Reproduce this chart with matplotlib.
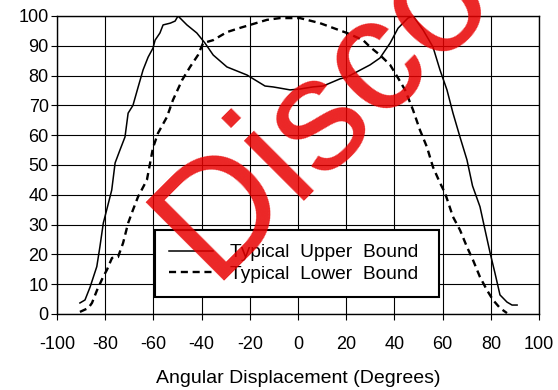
import matplotlib
matplotlib.use('Agg')
import matplotlib.pyplot as plt

plt.rcParams['font.family'] = ['Liberation Sans', 'DejaVu Sans']
plt.rcParams['axes.unicode_minus'] = False

# typical upper bound (solid)
upper_x = [-90.5, -88.4, -86.3, -83.5, -82.2, -80.8, -79.4, -77.3, -75.9, -73.9,
           -71.8, -70.5, -68.5, -66.4, -64.3, -62.2, -60.2, -59.3, -57.3, -56,
           -53, -51, -49.8, -46.1, -42, -38.6, -35.2, -29.5, -21.2, -13.7,
           -10.4, -7.5, -3.3, 0.8, 6.2, 10.4, 17.4, 20.3, 29.9, 34,
           38.2, 41.5, 45.6, 47.7, 51.9, 56, 58.9, 61.8, 64.3, 67.2,
           70.1, 72.4, 75.5, 77.6, 79.7, 81.7, 83.8, 86.7, 88.8, 90.9]
upper_y = [3.7, 4.7, 9, 15.9, 22.6, 30.5, 34.9, 41.6, 50.7, 55,
           59.4, 67.4, 70, 76, 81.9, 86.2, 89.2, 91.9, 94.3, 97,
           97.6, 98.3, 100, 97, 94.3, 90.9, 86.9, 82.9, 80.2, 76.5,
           76.2, 75.8, 75.2, 75.5, 76.2, 76.5, 78.9, 79.5, 83.6, 85.9,
           90.9, 95.9, 99.3, 100, 95.3, 89.6, 81.9, 75.2, 67.4, 59.4,
           51.7, 43, 36, 28.2, 20.5, 13.8, 6.4, 4, 3, 3]

# typical lower bound (dashed)
lower_x = [-90.5, -87, -85.5, -83.4, -80.9, -79.3, -77.2, -74.7, -72.6, -70.5,
           -68.5, -66.4, -62.7, -60.2, -58.1, -54.4, -51.9, -48.1, -44.8, -41.5,
           -39.4, -35.2, -29.5, -24.1, -18.7, -12.9, -7.5, 0.8, 9.1, 20.3,
           27, 29.9, 34, 38.2, 41.5, 44.4, 47.7, 50.6, 53.5, 56,
           58.9, 61, 64.3, 67.2, 70.1, 72.6, 75.5, 78.4, 80.9, 83.8, 86.7]
lower_y = [0.7, 2, 3.7, 8, 12.4, 14.8, 18.8, 19.1, 23.8, 30.5,
           34.9, 39.3, 45, 55.7, 60.7, 66.1, 71.8, 78.5, 82.9, 86.9,
           90.9, 91.9, 94.6, 96, 97.3, 98.7, 99.3, 99.3, 97.6, 94.3,
           91.9, 89.6, 86.9, 83.6, 79.2, 75.2, 68.5, 61.7, 56, 49.3,
           44, 40.6, 32.6, 28.2, 22.5, 18.1, 12.4, 8, 4.7, 2, 0.3]

x_ticks = list(range(-100, 101, 20))
y_ticks = list(range(0, 101, 10))

fig = plt.figure(figsize=(5.58, 3.9), dpi=100)
ax = fig.add_axes([0.1022, 0.1949, 0.8638, 0.7641])

ax.plot(upper_x, upper_y, color='black', lw=1.1, label='Typical  Upper  Bound')
ax.plot(lower_x, lower_y, color='black', lw=1.7, dashes=(3, 2),
        label='Typical  Lower  Bound')

ax.set_xlim(-100, 100)
ax.set_ylim(0, 100)
ax.set_xticks(x_ticks)
ax.set_yticks(y_ticks)
ax.grid(True, color='black', lw=0.8)
ax.set_axisbelow(True)
for s in ax.spines.values():
    s.set_color('black')
    s.set_linewidth(1.0)
ax.tick_params(axis='x', direction='out', length=4, pad=12, labelsize=13)
ax.tick_params(axis='y', direction='out', length=4, pad=2, labelsize=13)
ax.set_xlabel('Angular Displacement (Degrees)', fontsize=14, labelpad=12)

leg = ax.legend(loc='lower left', bbox_to_anchor=(0.203, 0.057, 0.589, 0.215),
                mode='expand', borderaxespad=0,
                fontsize=13.8, handlelength=2.3, handletextpad=0.85,
                borderpad=0.75, labelspacing=0.2, fancybox=False, framealpha=1)
leg.get_frame().set_edgecolor('black')
leg.get_frame().set_linewidth(1.5)

# watermark
fig.text(0.379, 0.28, 'Disco', fontsize=116, color='#e80000', alpha=0.85,
         rotation=45, rotation_mode='anchor', ha='left', va='baseline', zorder=10)

plt.savefig('out.png', dpi=100)
